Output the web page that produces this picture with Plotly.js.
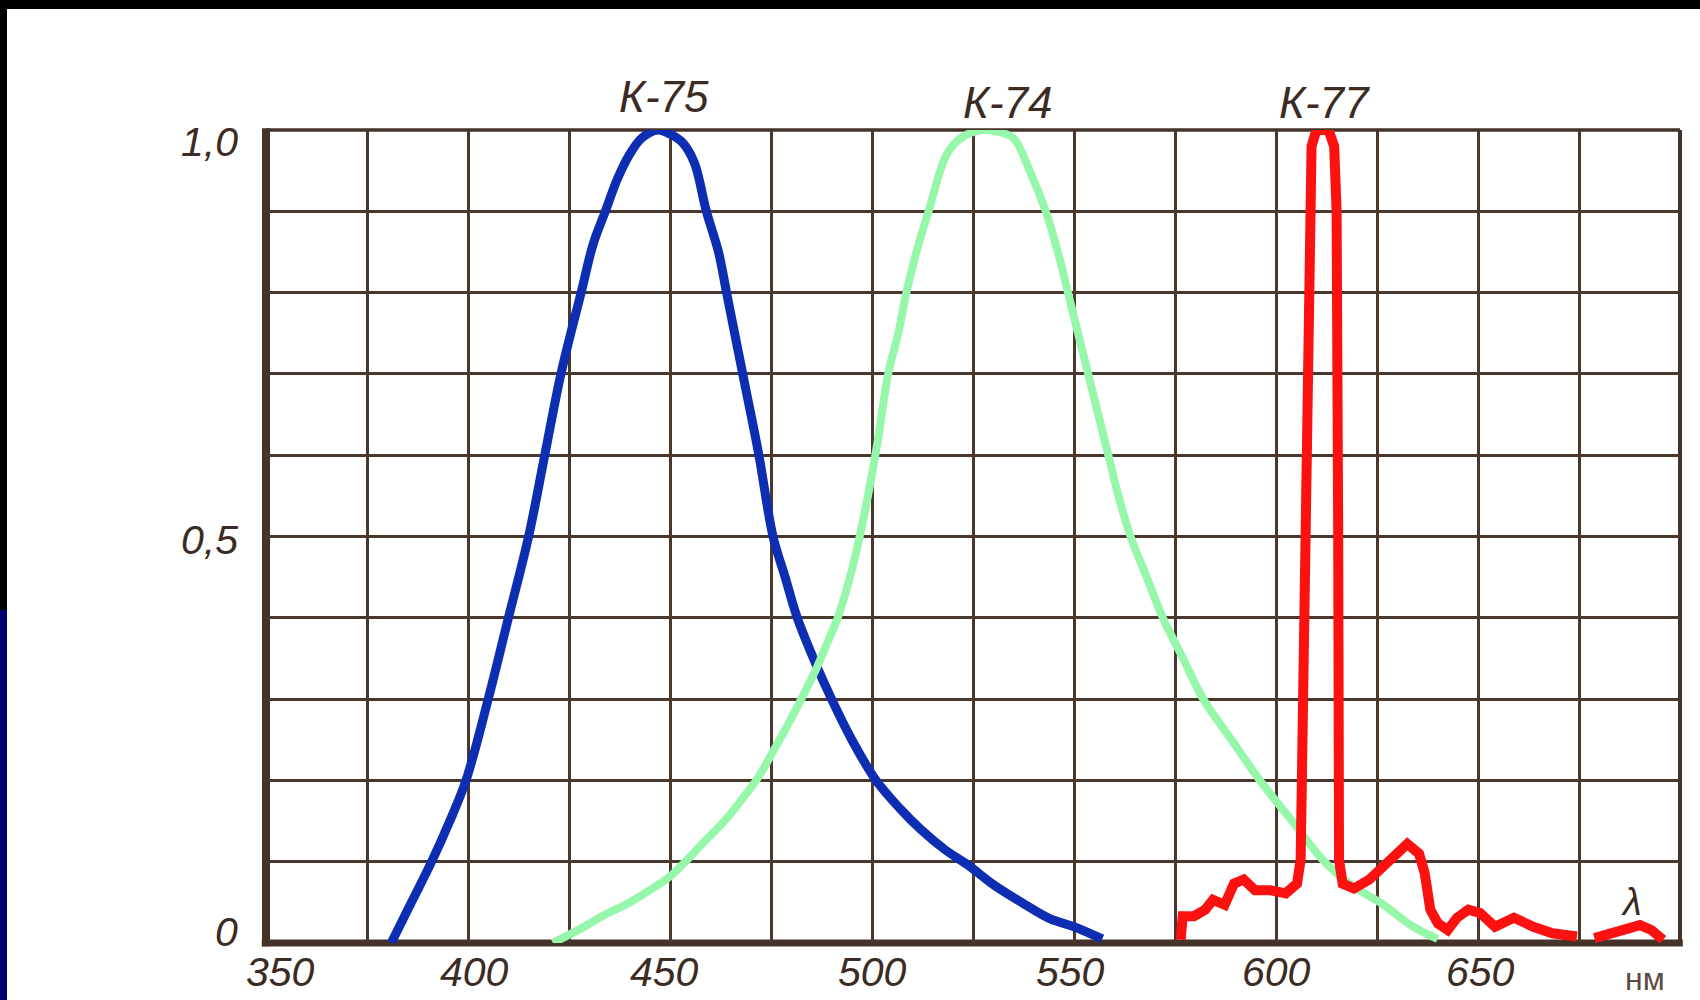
<!DOCTYPE html>
<html>
<head>
<meta charset="utf-8">
<script src="https://cdn.plot.ly/plotly-3.0.1.min.js"></script>
<style>
  html, body { margin: 0; padding: 0; background: #ffffff; }
  #chart { width: 1700px; height: 1000px; }
</style>
</head>
<body>
<div id="chart"></div>
<script>
// ---- data (wavelength in nm, relative transmission) ----
const seriesNames = ['К-75', 'К-74', 'К-77'];

const k75Wavelength = [381, 386, 391, 395.5, 399.5, 405, 410, 415, 419, 423, 428, 431, 434, 437, 440,
  443, 447, 450, 453, 456, 459, 462, 464, 468, 472, 475.5, 478.5, 481.5, 485.5, 490,
  495, 501, 507, 512, 518, 524, 530, 537, 544, 550, 557];
const k75Value = [0, 0.05, 0.1, 0.15, 0.2, 0.3, 0.4, 0.5, 0.6, 0.7, 0.8, 0.86, 0.9, 0.94, 0.97,
  0.99, 1.0, 0.995, 0.985, 0.96, 0.9, 0.85, 0.8, 0.7, 0.6, 0.5, 0.45, 0.4, 0.35, 0.3,
  0.25, 0.2, 0.165, 0.14, 0.115, 0.095, 0.072, 0.05, 0.03, 0.02, 0.005];

const k74Wavelength = [421, 428, 434, 439, 445, 450, 453, 458, 464, 468, 472, 476, 480, 483, 486,
  489, 491.5, 494, 496.5, 499, 501.5, 504, 506.5, 508.5, 511, 514, 518.5, 522, 527, 531,
  535, 539, 543, 546, 548.5, 551, 553.5, 556, 558.5, 561, 564, 568, 572, 577, 582,
  589, 596, 604, 612, 619, 626, 634, 640];
const k74Value = [0, 0.018, 0.035, 0.047, 0.065, 0.082, 0.096, 0.122, 0.153, 0.178, 0.205, 0.24, 0.276, 0.305, 0.335,
  0.37, 0.4, 0.44, 0.49, 0.55, 0.62, 0.7, 0.75, 0.8, 0.85, 0.9, 0.97, 0.99, 1.0, 0.998,
  0.99, 0.95, 0.9, 0.85, 0.8, 0.75, 0.7, 0.65, 0.6, 0.55, 0.5, 0.45, 0.4, 0.35, 0.3,
  0.25, 0.2, 0.15, 0.1, 0.07, 0.049, 0.02, 0.005];

const k77Wavelength = [576.4, 576.9, 579.7, 582.5, 584.4, 587.3, 589.6, 592, 594.8, 598.6,
  602.4, 605.2, 606.1, 606.4, 607.3, 608.2, 608.8, 610, 611.5, 613,
  614.4, 615, 615.4, 615.6, 616.5, 619.3, 623.1, 625.9, 628.8, 632.5,
  635.4, 636.8, 638.2, 640.1, 642.5, 644.8, 647.6, 650.5, 654.2, 658.9,
  663.7, 668.4, 674.5, null, 678.8, 684.4, 690.1, 692.9, 695.8];
const k77Value = [0.004, 0.033, 0.033, 0.041, 0.053, 0.047, 0.073, 0.078, 0.065, 0.065,
  0.061, 0.073, 0.102, 0.2, 0.5, 0.9, 0.98, 1.0, 1.0, 1.0,
  0.98, 0.9, 0.5, 0.102, 0.073, 0.067, 0.078, 0.09, 0.106, 0.122,
  0.11, 0.086, 0.041, 0.024, 0.016, 0.031, 0.041, 0.037, 0.02, 0.031,
  0.02, 0.012, 0.008, null, 0.006, 0.014, 0.022, 0.016, 0.004];

const xTickVals = [350, 400, 450, 500, 550, 600, 650];
const xTickText = ['350', '400', '450', '500', '550', '600', '650'];
const yTickVals = [0, 0.5, 1];
const yTickText = ['0', '0,5', '1,0'];
const xUnit = 'нм';
const xSymbol = 'λ';

// ---- styling ----
const ink = '#3b2b22';
const gridColor = '#4a382d';
const labelFont = { family: 'Liberation Sans, Arial, sans-serif', size: 41, color: ink, style: 'italic' };
const xTickShift = [14, 6, -6, 0, -4, 0, 2];
const yTickShift = [11, -3, -12];
const seriesLabelX = [448.5, 533.7, 612.1];
const seriesLabelY = [1.0406, 1.0344, 1.0344];

const traces = [
  { x: k75Wavelength, y: k75Value, name: seriesNames[0], type: 'scatter', mode: 'lines',
    line: { color: '#0d2db2', width: 9, shape: 'spline', smoothing: 1.0 } },
  { x: k74Wavelength, y: k74Value, name: seriesNames[1], type: 'scatter', mode: 'lines',
    line: { color: '#96f7aa', width: 8, shape: 'spline', smoothing: 1.0 } },
  { x: k77Wavelength, y: k77Value, name: seriesNames[2], type: 'scatter', mode: 'lines',
    connectgaps: false,
    line: { color: '#fb1210', width: 10, shape: 'linear' } }
];

const annotations = [];
xTickVals.forEach((v, i) => annotations.push({
  xref: 'x', yref: 'paper', x: v, y: -0.0357, xshift: xTickShift[i],
  text: xTickText[i], showarrow: false, xanchor: 'center', yanchor: 'middle', font: labelFont
}));
yTickVals.forEach((v, i) => annotations.push({
  xref: 'paper', yref: 'y', x: -0.0184, y: v, yshift: yTickShift[i],
  text: yTickText[i], showarrow: false, xanchor: 'right', yanchor: 'middle', font: labelFont
}));
seriesNames.forEach((n, i) => annotations.push({
  xref: 'x', yref: 'paper', x: seriesLabelX[i], y: seriesLabelY[i],
  text: n, showarrow: false, xanchor: 'center', yanchor: 'middle',
  font: { family: 'Liberation Sans, Arial, sans-serif', size: 44, color: ink, style: 'italic' }
}));
annotations.push({ xref: 'paper', yref: 'paper', x: 0.966, y: 0.0504, text: xSymbol, showarrow: false,
  xanchor: 'center', yanchor: 'middle',
  font: { family: 'Liberation Sans, Arial, sans-serif', size: 38, color: ink, style: 'italic' } });
annotations.push({ xref: 'paper', yref: 'paper', x: 0.975, y: -0.0443, text: xUnit, showarrow: false,
  xanchor: 'center', yanchor: 'middle',
  font: { family: 'Liberation Sans, Arial, sans-serif', size: 32, color: '#5a4a40' } });

const frame = (x0, x1, y0, y1, w) => ({ type: 'line', xref: 'paper', yref: 'paper', x0, x1, y0, y1,
  layer: 'between', line: { color: '#45332a', width: w } });

const shapes = [
  frame(0, 0, -0.004, 1.002, 8),
  frame(-0.003, 1.002, 0, 0, 7),
  frame(0, 1, 1, 1, 3.5),
  frame(1, 1, 0, 1, 4),
  // scan border
  { type: 'rect', xref: 'paper', yref: 'paper', x0: -0.2, x1: 1.05, y0: 1.1488, y1: 1.2,
    fillcolor: '#000000', line: { width: 0 }, layer: 'above' },
  { type: 'rect', xref: 'paper', yref: 'paper', x0: -0.2, x1: -0.18317, y0: 0.4096, y1: 1.2,
    fillcolor: '#000000', line: { width: 0 }, layer: 'above' },
  { type: 'rect', xref: 'paper', yref: 'paper', x0: -0.2, x1: -0.18317, y0: -0.1, y1: 0.4096,
    fillcolor: '#00006e', line: { width: 0 }, layer: 'above' }
];

const axisCommon = { showgrid: true, gridcolor: gridColor, gridwidth: 3, zeroline: false,
  showline: false, showticklabels: false, ticks: '', fixedrange: true };

const layout = {
  width: 1700, height: 1000,
  margin: { l: 266, r: 20, t: 130, b: 57, pad: 0 },
  paper_bgcolor: '#ffffff', plot_bgcolor: '#ffffff',
  showlegend: false,
  xaxis: Object.assign({ range: [350, 700], tick0: 350, dtick: 25 }, axisCommon),
  yaxis: Object.assign({ range: [0, 1], tick0: 0, dtick: 0.1 }, axisCommon),
  shapes, annotations
};

Plotly.newPlot('chart', traces, layout, { staticPlot: true, displayModeBar: false });
</script>
</body>
</html>
